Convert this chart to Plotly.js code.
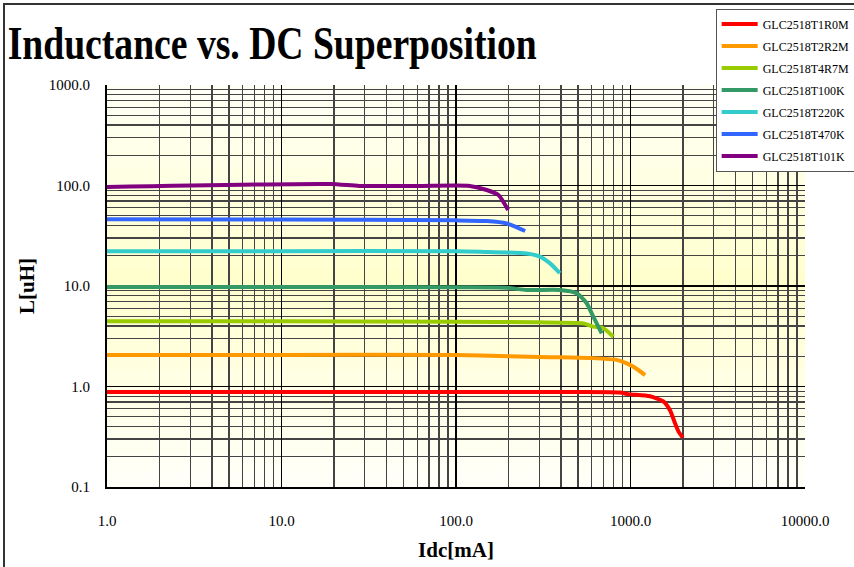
<!DOCTYPE html>
<html>
<head>
<meta charset="utf-8">
<script src="https://cdn.plot.ly/plotly-3.0.1.min.js"></script>
<style>
html,body{margin:0;padding:0;background:#fff;overflow:hidden;}
#wrap{position:relative;width:854px;height:567px;overflow:hidden;}
#chart{position:absolute;left:0;top:0;width:854px;height:567px;}
#frame{position:absolute;left:3px;top:3px;width:860px;height:570px;border-top:2px solid #333;border-left:2px solid #333;pointer-events:none;}
</style>
</head>
<body>
<div id="wrap"><div id="chart"></div><div id="frame"></div></div>
<script>
// Data (Idc in mA, L in uH)
const names = ["GLC2518T1R0M","GLC2518T2R2M","GLC2518T4R7M","GLC2518T100K","GLC2518T220K","GLC2518T470K","GLC2518T101K"];
const colors = ["#ff0000","#ff9900","#99cc00","#339966","#33cccc","#3366ff","#800080"];

const x1R0 = [1, 10, 100, 500, 871, 971, 1294, 1542, 1684, 1800, 1879, 1991];
const y1R0 = [0.88, 0.88, 0.88, 0.88, 0.87, 0.84, 0.80, 0.71, 0.58, 0.43, 0.36, 0.31];

const x2R2 = [1, 10, 100, 200, 346, 586, 833, 993, 1109, 1211];
const y2R2 = [2.06, 2.06, 2.06, 2.0, 1.96, 1.92, 1.84, 1.64, 1.46, 1.30];

const x4R7 = [1, 10, 100, 290, 536, 612, 695, 797];
const y4R7 = [4.45, 4.45, 4.42, 4.35, 4.25, 3.94, 3.82, 3.13];

const x100 = [1, 10, 100, 195, 254, 394, 492, 561, 612, 684];
const y100 = [9.8, 9.8, 9.7, 9.62, 9.12, 9.12, 8.46, 6.73, 4.95, 3.38];

const x220 = [1, 10, 100, 137, 254, 303, 346, 394];
const y220 = [22.2, 22.2, 22.2, 21.9, 21.1, 19.6, 16.8, 13.4];

const x470 = [1, 10, 100, 150, 195, 249];
const y470 = [46.2, 45.8, 45.0, 44.3, 42.0, 35.3];

const x101 = [1, 19, 28, 62, 120, 150, 175, 199];
const y101 = [96.6, 103.5, 98.9, 99, 99, 90.2, 80.4, 57.0];

const xTickVals = [1, 10, 100, 1000, 10000];
const xTickText = ["1.0", "10.0", "100.0", "1000.0", "10000.0"];
const yTickVals = [0.1, 1, 10, 100, 1000];
const yTickText = ["0.1", "1.0", "10.0", "100.0", "1000.0"];

const xs = [x1R0, x2R2, x4R7, x100, x220, x470, x101];
const ys = [y1R0, y2R2, y4R7, y100, y220, y470, y101];

const traces = names.map((n, i) => ({
  type: "scatter", mode: "lines", name: n, legendgroup: n,
  x: xs[i], y: ys[i],
  line: {color: colors[i], width: 4, shape: "spline", smoothing: 0.6}
}));

// background gradient bands: pale at top and bottom, light yellow in the middle
const shapes = [];
const nBands = 24;
for (let k = 0; k < nBands; k++) {
  const t = (k + 0.5) / nBands;
  const d = Math.abs(t - 0.48) / 0.52;
  const b = Math.round(206 + 44 * d);
  shapes.push({type: "rect", xref: "paper", yref: "paper", x0: 0, x1: 1,
    y0: 1 - (k + 1) / nBands, y1: 1 - k / nBands, layer: "below",
    line: {width: 0}, fillcolor: `rgb(255,255,${b})`});
}

const serif = "Liberation Serif";
const layout = {
  width: 854, height: 567,
  margin: {l: 107, r: 49, t: 85, b: 80, autoexpand: false},
  paper_bgcolor: "#ffffff",
  plot_bgcolor: "#ffffe0",
  font: {family: serif, color: "#000"},
  title: {text: "<b>Inductance vs. DC Superposition</b>", x: 0.009, xanchor: "left",
    y: 0.925, yanchor: "middle", yref: "container",
    font: {family: serif, size: 46, color: "#000"}},
  showlegend: true,
  legend: {xref: "container", yref: "container", x: 0.838, y: 0.985, xanchor: "left", yanchor: "top",
    bgcolor: "#ffffff", bordercolor: "#555", borderwidth: 1,
    font: {family: serif, size: 12, color: "#000"},
    itemwidth: 36, tracegroupgap: 3},
  xaxis: {type: "log", range: [0, 4],
    tickmode: "array", tickvals: xTickVals, ticktext: xTickText,
    ticks: "outside", ticklen: 19, tickcolor: "rgba(0,0,0,0)",
    tickfont: {family: serif, size: 15},
    showgrid: true, gridcolor: "#000", gridwidth: 1.2,
    minor: {dtick: "D1", showgrid: true, gridcolor: "#444", gridwidth: 1.2},
    showline: true, linecolor: "#000", linewidth: 2, mirror: false,
    zeroline: false, automargin: false,
    title: {text: "<b>Idc[mA]</b>", font: {family: serif, size: 21}, standoff: 14}},
  yaxis: {type: "log", range: [-1, 3],
    tickmode: "array", tickvals: yTickVals, ticktext: yTickText,
    ticks: "outside", ticklen: 12, tickcolor: "rgba(0,0,0,0)",
    tickfont: {family: serif, size: 15},
    showgrid: true, gridcolor: "#000", gridwidth: 1.2,
    minor: {dtick: "D1", showgrid: true, gridcolor: "#444", gridwidth: 1.2},
    showline: true, linecolor: "#000", linewidth: 2,
    zeroline: false, automargin: false,
    title: {text: "<b>L[uH]</b>", font: {family: serif, size: 21}, standoff: 8}},
  shapes: shapes
};

Plotly.newPlot("chart", traces, layout, {displayModeBar: false, staticPlot: true}).then(() => {
  const t = document.querySelector("#chart .gtitle");
  if (t) { t.setAttribute("textLength", "529"); t.setAttribute("lengthAdjust", "spacingAndGlyphs"); }
});
</script>
</body>
</html>
